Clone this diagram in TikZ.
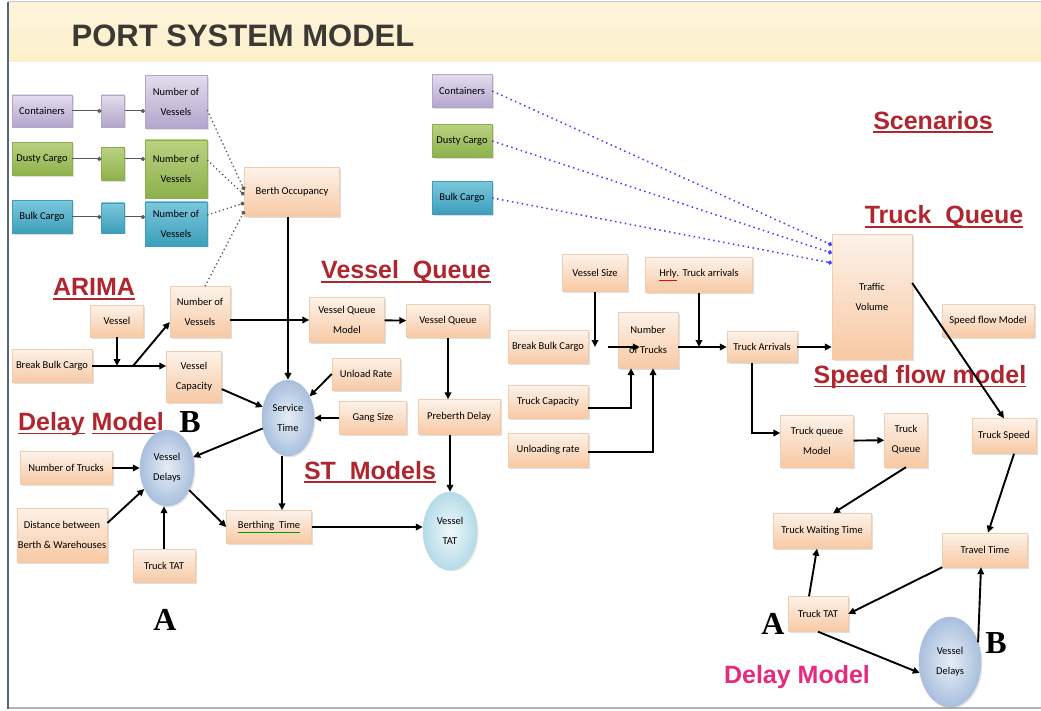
\documentclass[tikz,border=0pt]{standalone}
\usepackage{fontspec}
\setmainfont{Carlito}
\newfontfamily\headfont{Liberation Sans}
\newfontfamily\markfont{Liberation Serif}
\usetikzlibrary{arrows.meta,shapes.geometric,shadows}

\definecolor{peachtop}{HTML}{FDF2E9}
\definecolor{peachbot}{HTML}{F8C9A4}
\definecolor{peachline}{HTML}{F1CDB0}
\definecolor{liltop}{HTML}{E3DDEE}
\definecolor{lilbot}{HTML}{B3A5CC}
\definecolor{leaftop}{HTML}{B9D282}
\definecolor{leafbot}{HTML}{8DB04A}
\definecolor{seatop}{HTML}{7CC7DC}
\definecolor{seabot}{HTML}{3C9EBA}
\definecolor{ballin}{HTML}{E6EEF7}
\definecolor{ballout}{HTML}{A9BFDD}
\definecolor{tatin}{HTML}{F0F8FB}
\definecolor{tatout}{HTML}{B5DBE8}
\definecolor{labelred}{HTML}{B0262F}
\definecolor{pinklabel}{HTML}{E52B7E}
\definecolor{titleband}{HTML}{FCF0CB}
\definecolor{titleink}{HTML}{3C3833}
\definecolor{frameline}{HTML}{56647A}

\newcommand\boldline[1]{\sbox0{#1}\rlap{\rule[-4pt]{\wd0}{1.8pt}}\usebox0}

\tikzset{
  box/.style     = {shape=rectangle, draw=peachline, align=center, inner sep=1pt,
                    top color=peachtop, bottom color=peachbot,
                    font=\fontsize{10.5}{20}\selectfont,
                    drop shadow={opacity=0.25, shadow xshift=1.5pt, shadow yshift=-1.5pt}},
  lilac/.style   = {box, draw=lilbot, top color=liltop, bottom color=lilbot},
  leaf/.style    = {box, draw=leafbot, top color=leaftop, bottom color=leafbot},
  sea/.style     = {box, draw=seabot, top color=seatop, bottom color=seabot},
  ball/.style    = {shape=ellipse, draw=ballout, align=center, inner sep=0pt,
                    shading=radial, inner color=ballin, outer color=ballout,
                    font=\fontsize{10.5}{20}\selectfont,
                    drop shadow={opacity=0.2, shadow xshift=1.5pt, shadow yshift=-1.5pt}},
  tatball/.style = {ball, draw=tatout, inner color=tatin, outer color=tatout},
  heading/.style = {font=\headfont\bfseries\fontsize{25}{25}\selectfont,
                    text=labelred, inner sep=0pt},
  letter/.style  = {font=\markfont\bfseries\fontsize{32}{32}\selectfont, inner sep=0pt},
  wh/.style 2 args = {minimum width=#1pt, minimum height=#2pt}
}

\begin{document}
\begin{tikzpicture}[x=1pt, y=-1pt,
  flow/.style     = {line width=1.9pt, -{Triangle[length=7pt,width=6.5pt]}},
  feed/.style     = {draw=gray!70!black, line width=1pt, -{Circle[length=4pt]}},
  dotfeed/.style  = {draw=gray!70!black, line width=1.3pt,
                     dash pattern=on 1.3pt off 2.8pt, -{Circle[length=4pt]}},
  bluefeed/.style = {draw=blue!75, line width=1.5pt,
                     dash pattern=on 1.5pt off 3.5pt, -{Circle[length=4pt]}}]

 \useasboundingbox (0,0) rectangle (1041,711);
 \fill[white] (0,0) rectangle (1041,711);
 \fill[top color=titleband!70, bottom color=titleband] (9,3) rectangle (1041,62);
 \draw[gray!45, line width=1pt] (8,2) -- (1041,2);
 \draw[gray!60, line width=1.5pt] (8,708) -- (1041,708);
 \draw[frameline, line width=2.5pt] (8,2) -- (8,709);

 \node[font=\headfont\bfseries\fontsize{31}{31}\selectfont, text=titleink] (title) at (243,36) {PORT SYSTEM MODEL};

 \node[lilac, wh={60}{32}] (cont)     at (42,111)  {Containers};
 \node[lilac, wh={23}{32}] (contmid)  at (113,111) {};
 \node[lilac, wh={62}{53}] (contnov)  at (176,102) {Number of\\Vessels};
 \node[leaf,  wh={60}{33}] (dusty)    at (42,159)  {Dusty Cargo};
 \node[leaf,  wh={23}{33}] (dustymid) at (113,164) {};
 \node[leaf,  wh={62}{58}] (dustynov) at (176,169) {Number of\\Vessels};
 \node[sea,   wh={60}{33}] (bulk)     at (42,217)  {Bulk Cargo};
 \node[sea,   wh={23}{30}] (bulkmid)  at (113,218) {};
 \node[sea,   wh={62}{44}] (bulknov)  at (176,224) {Number of\\Vessels};
 \node[box,   wh={95}{49}] (berth)    at (292,192) {Berth Occupancy};

 \node[heading] (arima) at (94,289) {\boldline{ARIMA}};
 \node[box, wh={53}{32}] (vessel)   at (117,321) {Vessel};
 \node[box, wh={60}{51}] (arimanov) at (200,312) {Number of\\Vessels};
 \node[box, wh={80}{33}] (bbc)      at (52,366)  {Break Bulk Cargo};
 \node[box, wh={55}{51}] (vcap)     at (194,377) {Vessel\\Capacity};

 \node[heading] (vqlabel) at (406,272) {\boldline{Vessel~~Queue}};
 \node[box, wh={75}{45}] (vqmodel)  at (347,320) {Vessel Queue\\Model};
 \node[box, wh={83}{33}] (vqueue)   at (448,321) {Vessel Queue};
 \node[box, wh={68}{32}] (unload)   at (366,374) {Unload Rate};
 \node[ball, wh={52}{76}] (service) at (288,418) {Service\\Time};
 \node[box, wh={67}{33}] (gang)     at (373,418) {Gang Size};
 \node[box, wh={82}{35}] (preberth) at (459,417) {Preberth Delay};

 \node[heading] (dmlabel) at (91,424) {\boldline{Delay}~\boldline{Model}};
 \node[letter]  (markB)   at (190,422) {B};
 \node[ball, wh={54}{76}] (vdelay)  at (167,468) {Vessel\\Delays};
 \node[box, wh={92}{33}] (ntrucks)  at (66,468)  {Number of Trucks};
 \node[box, wh={90}{54}] (dist)     at (62,535)  {Distance between\\Berth \& Warehouses};
 \node[box, wh={62}{33}] (ttat)     at (164,566) {Truck TAT};
 \node[box, wh={85}{33}] (berthing) at (269,527)
   {\textcolor{green!60!black}{\underline{\textcolor{black}{Berthing~~Time}}}};
 \node[heading] (stlabel) at (370,472) {\boldline{ST~~Models}};
 \node[tatball, wh={54}{78}] (vtat) at (450,531) {Vessel\\TAT};
 \node[letter]  (markA)   at (165,620) {A};

 \node[lilac, wh={60}{33}] (rcont)  at (462,91)  {Containers};
 \node[leaf,  wh={60}{33}] (rdusty) at (462,141) {Dusty Cargo};
 \node[sea,   wh={60}{33}] (rbulk)  at (462,198) {Bulk Cargo};
 \node[heading] (scen)    at (933,122) {\boldline{Scenarios}};
 \node[heading] (tqlabel) at (944,217) {\boldline{Truck~~Queue}};

 \node[box, wh={80}{125}] (traffic) at (872,297) {Traffic\\Volume};
 \node[box, wh={65}{37}] (vsize)    at (595,273) {Vessel Size};
 \node[box, wh={107}{35}] (hrly)    at (699,275)
   {\textcolor{red}{\underline{\textcolor{black}{Hrly}}}. Truck arrivals};
 \node[box, wh={80}{33}] (rbbc)     at (548,347) {Break Bulk Cargo};
 \node[box, wh={60}{56}] (rntr)     at (648,340) {Number\\of Trucks};
 \node[box, wh={80}{33}] (tcap)     at (548,402) {Truck Capacity};
 \node[box, wh={80}{34}] (unlr)     at (548,450) {Unloading rate};
 \node[box, wh={70}{31}] (tarr)     at (762,347) {Truck Arrivals};
 \node[box, wh={92}{33}] (sfm)      at (988,321) {Speed flow Model};
 \node[heading] (sflabel) at (920,377) {\boldline{Speed flow model}};

 \node[box, wh={73}{52}] (tqm)      at (817,441) {Truck queue\\Model};
 \node[box, wh={43}{54}] (tq)       at (906,440) {Truck\\Queue};
 \node[box, wh={64}{35}] (tspeed)   at (1004,436) {Truck Speed};
 \node[box, wh={98}{35}] (twt)      at (822,531) {Truck Waiting Time};
 \node[box, wh={85}{34}] (ttime)    at (985,550) {Travel Time};
 \node[box, wh={60}{35}] (rttat)    at (818,614) {Truck TAT};
 \node[ball, wh={62}{90}] (rvdelay) at (950,662) {Vessel\\Delays};
 \node[letter] (rmarkA) at (773,624) {A};
 \node[letter] (rmarkB) at (996,643) {B};
 \node[font=\headfont\bfseries\fontsize{25}{25}\selectfont, text=pinklabel, inner sep=0pt]
   (rdmlabel) at (797,677) {Delay Model};

 \draw[feed] (cont) -- (contmid);
 \draw[feed] (contmid) -- (contmid -| contnov.west);
 \draw[feed] (dusty.east) -- (dusty.east -| dustymid.west);
 \draw[feed] (dustymid.east |- dusty.east) -- (dusty.east -| dustynov.west);
 \draw[feed] (bulk) -- (bulk -| bulkmid.west);
 \draw[feed] (bulkmid.east |- bulk) -- (bulk -| bulknov.west);

 \draw[dotfeed] ([yshift=-8pt]contnov.east) -- ([yshift=2pt]berth.west);
 \draw[dotfeed] ([yshift=9pt]dustynov.east) -- ([yshift=-3pt]berth.west);
 \draw[dotfeed] ([yshift=9pt]bulknov.east) -- ([yshift=-11pt]berth.west);
 \draw[dotfeed] ([xshift=5pt]arimanov.north) -- ([yshift=-19pt]berth.west);

 \coordinate (split) at (133,366);
 \draw[flow] (vessel) -- (vessel.south |- bbc.east);
 \draw[flow] (bbc.east) -- (bbc.east -| vcap.west);
 \draw[flow] (split) -- ([yshift=-10pt]arimanov.west);
 \draw[flow] (arimanov.east |- vqmodel) -- (vqmodel);
 \draw[flow] (service.north |- berth.south) -- (service.north);
 \draw[flow] (vqmodel) -- (vqueue);
 \draw[flow] (vqueue.south) -- (vqueue.south |- preberth.north);
 \draw[flow] (vtat.north |- preberth.south) -- (vtat.north);
 \draw[flow] (vcap) -- (service);
 \draw[flow] (unload.west) -- (service);
 \draw[flow] (gang) -- (service);
 \draw[flow] (service) -- (vdelay);
 \draw[flow] ([xshift=-6pt]service.south) -- ([xshift=-6pt]service.south |- berthing.north);
 \draw[flow] (ntrucks) -- (vdelay);
 \draw[flow] ([yshift=12pt]dist.east) -- (vdelay);
 \draw[flow] (ttat.north) -- (ttat.north |- vdelay.south);
 \draw[flow] (vdelay) -- (berthing.west);
 \draw[flow] (berthing.east) -- (berthing.east -| vtat.west);

 \draw[bluefeed] (rcont.east) -- ([yshift=52pt]traffic.west);
 \draw[bluefeed] (rdusty.east) -- ([yshift=44pt]traffic.west);
 \draw[bluefeed] (rbulk.east) -- ([yshift=34pt]traffic.west);

 \draw[flow] (vsize.south) -- (vsize.south |- rbbc.east);
 \draw[flow] ([xshift=20pt]rbbc.east) -- ([xshift=22pt]rntr.west |- rbbc.east);
 \draw[flow] (hrly.south) -- (hrly.south |- tarr.west);
 \draw[flow] (rntr.east |- tarr.west) -- (tarr.west);
 \draw[flow] ([yshift=-6pt]tcap.east) -| ([xshift=-17pt]rntr.south);
 \draw[flow] ([yshift=-2pt]unlr.east) -| ([xshift=5pt]rntr.south);
 \draw[flow] (tarr.east) -- (tarr.east -| traffic.west);
 \draw[flow] ([xshift=-10pt]tarr.south) |- ([yshift=8pt]tqm.west);
 \draw[flow] (tqm) -- (tq);
 \draw[flow] ([yshift=14pt]traffic.east) -- (tspeed.north);
 \draw[flow] (tq.south) -- ([xshift=11pt]twt.north);
 \draw[flow] ([xshift=10pt]tspeed.south) -- ([xshift=3pt]ttime.north);
 \draw[flow] ([xshift=-9pt]rttat.north) -- ([xshift=-5pt]twt.south);
 \draw[flow] (ttime.south west) -- (rttat.east);
 \draw[flow] (rttat.south) -- (rvdelay.200);
 \draw[flow] (rvdelay.35) -- ([xshift=-4pt]ttime.south);
\end{tikzpicture}
\end{document}
